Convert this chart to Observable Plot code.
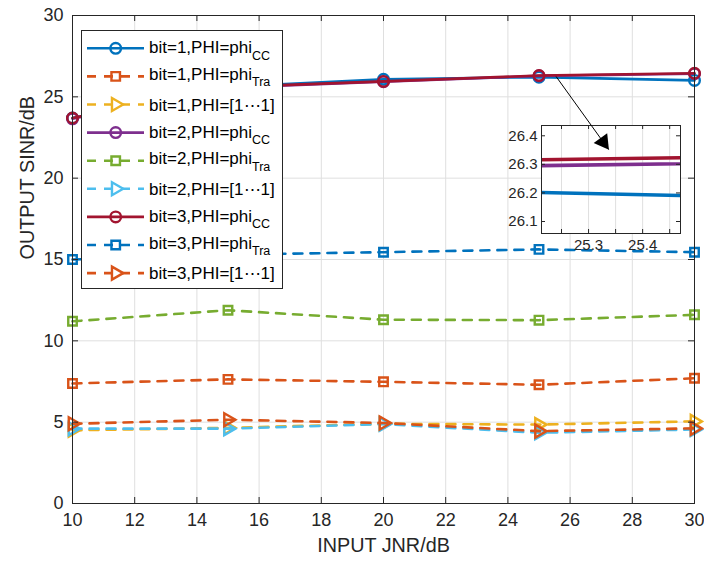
<!DOCTYPE html>
<html><head><meta charset="utf-8">
<script src="https://cdn.jsdelivr.net/npm/d3@7"></script>
<script src="https://cdn.jsdelivr.net/npm/@observablehq/plot@0.6"></script>
<style>
body{margin:0;background:#fff;}
#wrap{position:relative;width:704px;height:562px;background:#fff;overflow:hidden;}
#wrap svg{position:absolute;left:0;top:0;}
</style></head><body><div id="wrap"></div>
<script>
// ---------- data ----------
const jnr = [10, 15, 20, 25, 30];
const bit1_cc   = [23.70, 25.62, 26.08, 26.21, 26.01];
const bit1_tra  = [7.38, 7.63, 7.48, 7.30, 7.70];
const bit1_ones = [4.50, 4.65, 4.90, 4.85, 5.05];
const bit2_cc   = [23.65, 25.56, 25.93, 26.29, 26.42];
const bit2_tra  = [11.20, 11.88, 11.30, 11.27, 11.60];
const bit2_ones = [4.60, 4.60, 4.88, 4.35, 4.55];
const bit3_cc   = [23.70, 25.60, 25.95, 26.31, 26.45];
const bit3_tra  = [15.00, 15.30, 15.45, 15.62, 15.45];
const bit3_ones = [4.90, 5.15, 4.95, 4.45, 4.62];

const seriesValues = [bit1_cc, bit1_tra, bit1_ones, bit2_cc, bit2_tra, bit2_ones, bit3_cc, bit3_tra, bit3_ones];
const seriesMain = ["bit=1,PHI=phi","bit=1,PHI=phi","bit=1,PHI=[1\u22ef1]","bit=2,PHI=phi","bit=2,PHI=phi","bit=2,PHI=[1\u22ef1]","bit=3,PHI=phi","bit=3,PHI=phi","bit=3,PHI=[1\u22ef1]"];
const seriesSub  = ["CC","Tra","","CC","Tra","","CC","Tra",""];
const seriesColors = ["#0072BD","#D95319","#EDB120","#7E2F8E","#77AC30","#4DBEEE","#A2142F","#0072BD","#D95319"];
const seriesSymbols = ["circle","square","triangle","circle","square","triangle","circle","square","triangle"];
const seriesDashed = [false,true,true,false,true,true,false,true,true];

const xTicks = [10,12,14,16,18,20,22,24,26,28,30];
const yTicks = [0,5,10,15,20,25,30];
const xLabel = "INPUT JNR/dB";
const yLabel = "OUTPUT SINR/dB";

// inset (zoom window)
const insetSeries = [0, 3, 6];
const insetXDomain = [25.213, 25.47];
const insetYDomain = [26.058, 26.436];
const insetXGrid = [25.25, 25.3, 25.35, 25.4, 25.45];
const insetXLabels = [25.3, 25.4];
const insetYTicks = [26.1, 26.2, 26.3, 26.4];

// arrow annotation (data coordinates)
const arrowFrom = {x: 25.55, y: 26.25};
const arrowTo   = {x: 27.24, y: 21.76};

// ---------- build ----------
const rows = seriesValues.flatMap((vals, s) => jnr.map((x, i) => ({x, y: vals[i], s})));
const W = 704, H = 562, ML = 72, MR = 10, MT = 15, MB = 59;
const font = "'Liberation Sans', Arial, Helvetica, sans-serif";
const axisCol = "#262626";
const dash = "9,8";
const symR = {circle: 5.3, square: 4.8, triangle: 4.8};

function seriesLines(idx, sw, clip) {
  return idx.map(s => Plot.line(rows.filter(d => d.s === s), {
    x: "x", y: "y", stroke: seriesColors[s], strokeWidth: sw,
    strokeDasharray: seriesDashed[s] ? dash : null, clip
  }));
}
function seriesDots(idx) {
  return idx.map(s => Plot.dot(rows.filter(d => d.s === s), {
    x: "x", y: "y", stroke: seriesColors[s], strokeWidth: 2.4, fill: "none",
    symbol: seriesSymbols[s], r: symR[seriesSymbols[s]],
    rotate: seriesSymbols[s] === "triangle" ? 90 : 0
  }));
}
const all = d3.range(seriesValues.length);
const grid = "#dfdfdf";

const main = Plot.plot({
  width: W, height: H, marginLeft: ML, marginRight: MR, marginTop: MT, marginBottom: MB,
  style: {fontFamily: font, fontSize: "18px", color: axisCol, background: "white", overflow: "visible"},
  x: {domain: [10, 30]},
  y: {domain: [0, 30]},
  marks: [
    Plot.gridX({ticks: xTicks, stroke: grid, strokeOpacity: 1}),
    Plot.gridY({ticks: yTicks, stroke: grid, strokeOpacity: 1}),
    ...all.flatMap(s => [...seriesLines([s], 2.6, false), ...seriesDots([s])]),
    Plot.axisX({ticks: xTicks, anchor: "bottom", tickSize: 0, tickPadding: 10, label: null, fontSize: 18, fill: axisCol}),
    Plot.axisY({ticks: yTicks, anchor: "left", tickSize: 0, tickPadding: 9, label: null, fontSize: 18, fill: axisCol}),
    Plot.tickX(xTicks, {x: d => d, insetTop: H - MT - MB - 6, stroke: axisCol}),
    Plot.tickX(xTicks, {x: d => d, insetBottom: H - MT - MB - 6, stroke: axisCol}),
    Plot.tickY(yTicks, {y: d => d, insetRight: W - ML - MR - 6, stroke: axisCol}),
    Plot.tickY(yTicks, {y: d => d, insetLeft: W - ML - MR - 6, stroke: axisCol}),
    Plot.frame({stroke: axisCol}),
    Plot.text([xLabel], {frameAnchor: "bottom", dy: 48, fontSize: 19.8, fill: axisCol}),
    Plot.text([yLabel], {frameAnchor: "left", dx: -45, rotate: -90, fontSize: 19.8, fill: axisCol})
  ]
});
const wrap = document.getElementById("wrap");
wrap.appendChild(main);

// inset
const IL = 490, IT = 112, IML = 51, IMT = 13, IMR = 6, IMB = 30;
const IW = 680 - IL + IMR, IH = 233 - IT + IMB;
const fmt1 = d => d.toFixed(1);
const inset = Plot.plot({
  width: IW, height: IH, marginLeft: IML, marginRight: IMR, marginTop: IMT, marginBottom: IMB,
  style: {fontFamily: font, fontSize: "15px", color: axisCol, background: "transparent", overflow: "visible"},
  x: {domain: insetXDomain},
  y: {domain: insetYDomain},
  marks: [
    Plot.frame({fill: "white"}),
    Plot.gridX({ticks: insetXGrid, stroke: grid, strokeOpacity: 1}),
    ...seriesLines(insetSeries, 3.6, true),
    Plot.axisX({ticks: insetXLabels, tickFormat: fmt1, anchor: "bottom", tickSize: 0, tickPadding: 6, label: null, fontSize: 15, fill: axisCol}),
    Plot.axisY({ticks: insetYTicks, tickFormat: fmt1, anchor: "left", tickSize: 0, tickPadding: 4, label: null, fontSize: 15, fill: axisCol}),
    Plot.tickX(insetXGrid, {x: d => d, insetTop: IH - IMT - IMB - 4, stroke: axisCol}),
    Plot.tickX(insetXGrid, {x: d => d, insetBottom: IH - IMT - IMB - 4, stroke: axisCol}),
    Plot.tickY(insetYTicks, {y: d => d, insetRight: IW - IML - IMR - 4, stroke: axisCol}),
    Plot.tickY(insetYTicks, {y: d => d, insetLeft: IW - IML - IMR - 4, stroke: axisCol}),
    Plot.frame({stroke: axisCol})
  ]
});
inset.style.left = IL + "px";
inset.style.top = IT + "px";
wrap.appendChild(inset);

// arrow overlay
const arrowPlot = Plot.plot({
  width: W, height: H, marginLeft: ML, marginRight: MR, marginTop: MT, marginBottom: MB,
  style: {background: "transparent", overflow: "visible"},
  x: {domain: [10, 30], axis: null},
  y: {domain: [0, 30], axis: null},
  marks: [
    Plot.link([0], {x1: () => arrowFrom.x, y1: () => arrowFrom.y, x2: () => arrowTo.x, y2: () => arrowTo.y, stroke: "black", strokeWidth: 1}),
    Plot.dot([0], {x: () => arrowTo.x, y: () => arrowTo.y, dx: -5.4, dy: -7.6, symbol: "triangle", r: 6.2, rotate: 144, fill: "black", stroke: "none"})
  ]
});
wrap.appendChild(arrowPlot);

// legend overlay
const leg = d3.create("svg").attr("width", W).attr("height", H)
  .style("font-family", font);
leg.append("rect").attr("x", 81.5).attr("y", 30.5).attr("width", 201).attr("height", 258)
  .attr("fill", "white").attr("stroke", axisCol).attr("stroke-width", 1);
all.forEach(s => {
  const cy = 48.3 + s * 28.1;
  const g = leg.append("g");
  g.append("line").attr("x1", 87).attr("x2", 144).attr("y1", cy).attr("y2", cy)
    .attr("stroke", seriesColors[s]).attr("stroke-width", 2.6)
    .attr("stroke-dasharray", seriesDashed[s] ? dash : null);
  const sym = seriesSymbols[s];
  const r = symR[sym];
  const type = sym === "circle" ? d3.symbolCircle : sym === "square" ? d3.symbolSquare : d3.symbolTriangle;
  g.append("path").attr("d", d3.symbol(type, r * r * Math.PI)())
    .attr("transform", `translate(115.7,${cy})` + (sym === "triangle" ? " rotate(90)" : ""))
    .attr("fill", "none").attr("stroke", seriesColors[s]).attr("stroke-width", 2.4);
  const off = seriesSub[s] === "CC" ? 5 : seriesSub[s] === "Tra" ? 3.5 : 6;
  const t = g.append("text").attr("x", 149).attr("y", cy + off).attr("font-size", 17).attr("fill", "#000");
  t.append("tspan").text(seriesMain[s]);
  if (seriesSub[s]) t.append("tspan").attr("font-size", 12.5).attr("dy", 6.5).text(seriesSub[s]);
});
wrap.appendChild(leg.node());
</script></body></html>
